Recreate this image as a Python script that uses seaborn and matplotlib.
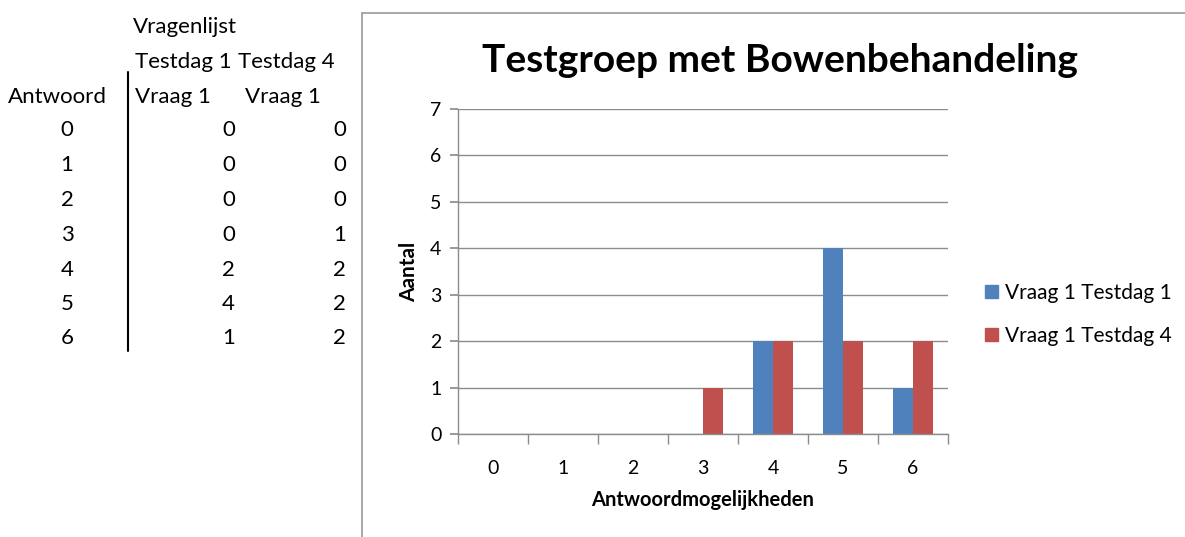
import numpy as np
import pandas as pd
import seaborn as sns
import matplotlib.pyplot as plt
from matplotlib.lines import Line2D
from matplotlib.patches import Patch

# Data from the sheet
antwoord = [0, 1, 2, 3, 4, 5, 6]
testdag1 = [0, 0, 0, 0, 2, 4, 1]
testdag4 = [0, 0, 0, 1, 2, 2, 2]
series_names = ['Vraag 1 Testdag 1', 'Vraag 1 Testdag 4']
colors = ['#4F81BD', '#C0504D']

df = pd.DataFrame({
    'Antwoord': antwoord * 2,
    'Aantal': testdag1 + testdag4,
    'Serie': [series_names[0]] * len(antwoord) + [series_names[1]] * len(antwoord),
})

sns.set_theme(style='white')
plt.rcParams['font.family'] = ['Lato', 'DejaVu Sans']
plt.rcParams['text.color'] = 'black'
plt.rcParams['axes.labelcolor'] = 'black'
plt.rcParams['xtick.color'] = 'black'
plt.rcParams['ytick.color'] = 'black'

W, H = 1185, 537
fig = plt.figure(figsize=(W / 100, H / 100), dpi=100)

def fx(px):
    return px / W

def fy(py):
    return 1 - py / H

ax = fig.add_axes([fx(458), fy(434), fx(948) - fx(458), fy(109) - fy(434)])
sns.barplot(data=df, x='Antwoord', y='Aantal', hue='Serie', palette=colors,
            width=0.58, saturation=1, ax=ax, legend=False, linewidth=0)

ax.set_ylim(0, 7)
ax.set_xlim(-0.5, 6.5)
ax.set_yticks(range(0, 8))
ax.yaxis.grid(True, color='#8C8C8C', linewidth=1)
ax.set_axisbelow(True)
for s in ['top', 'right']:
    ax.spines[s].set_visible(False)
for s in ['left', 'bottom']:
    ax.spines[s].set_color('#8C8C8C')
    ax.spines[s].set_linewidth(1)
# category separators on x axis
ax.set_xticks(np.arange(-0.5, 7, 1), minor=True)
ax.set_xticks(range(7))
ax.set_xticklabels([str(a) for a in antwoord])
ax.tick_params(axis='both', which='major', length=6, color='#8C8C8C', labelsize=14,
               left=True, bottom=False)
ax.tick_params(axis='x', which='major', pad=13)
ax.tick_params(axis='y', which='major', pad=6)
ax.tick_params(axis='x', which='minor', bottom=True, length=7, color='#8C8C8C', width=1)
ax.set_xlabel('Antwoordmogelijkheden', fontsize=14.5, fontweight='bold', labelpad=9)
ax.set_ylabel('Aantal', fontsize=15, fontweight='bold', labelpad=8)

fig.text(fx(780), fy(72), 'Testgroep met Bowenbehandeling', fontsize=28,
         fontweight='bold', ha='center', va='baseline')

handles = [Patch(color=c) for c in colors]
fig.legend(handles, series_names, loc='upper left',
           bbox_to_anchor=(fx(985), fy(283)), frameon=False, fontsize=15,
           borderpad=0, borderaxespad=0,
           handlelength=0.63, handleheight=0.63, handletextpad=0.34, labelspacing=1.1)

# chart frame
fig.add_artist(Line2D([fx(362), fx(362)], [fy(13), 0], color='#9A9A9A', lw=1.2))
fig.add_artist(Line2D([fx(362), 1], [fy(13), fy(13)], color='#9A9A9A', lw=1.2))

# table on the left
fs = 16
fig.text(fx(133), fy(33), 'Vragenlijst', fontsize=fs, va='baseline', ha='left')
fig.text(fx(135), fy(68), 'Testdag 1', fontsize=fs, va='baseline', ha='left')
fig.text(fx(238), fy(68), 'Testdag 4', fontsize=fs, va='baseline', ha='left')
fig.text(fx(8), fy(103), 'Antwoord', fontsize=fs, va='baseline', ha='left')
fig.text(fx(135), fy(103), 'Vraag 1', fontsize=fs, va='baseline', ha='left')
fig.text(fx(245), fy(103), 'Vraag 1', fontsize=fs, va='baseline', ha='left')
fig.add_artist(Line2D([fx(128), fx(128)], [fy(72), fy(351)], color='black', lw=1.5))

row_y = [128, 163, 198, 233, 268, 303, 337]
for a, v1, v4, yy in zip(antwoord, testdag1, testdag4, row_y):
    fig.text(fx(67), fy(yy + 7.5), str(a), fontsize=fs, va='baseline', ha='center')
    fig.text(fx(235), fy(yy + 7.5), str(v1), fontsize=fs, va='baseline', ha='right')
    fig.text(fx(346), fy(yy + 7.5), str(v4), fontsize=fs, va='baseline', ha='right')

fig.savefig('out.png', dpi=100)
